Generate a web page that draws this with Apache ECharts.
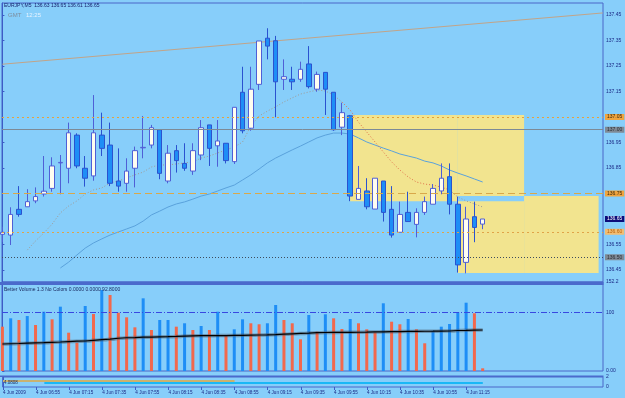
<!DOCTYPE html>
<html>
<head>
<meta charset="utf-8">
<title>EURJPY,M5</title>
<script src="https://cdn.jsdelivr.net/npm/echarts@6/dist/echarts.min.js"></script>
<style>html,body{margin:0;padding:0;background:#87cefa;}</style>
</head>
<body>
<div id="main" style="width:625px;height:398px;"></div>
<script>
// bar index -> time label (M5 bars, first bar 06:35)
var timeIdx = [0, 4, 8, 12, 16, 20, 24, 28, 32, 36, 40, 44, 48, 52, 56];
var timeLabels = ['4 Jun 2009', '4 Jun 06:55', '4 Jun 07:15', '4 Jun 07:35', '4 Jun 07:55',
  '4 Jun 08:15', '4 Jun 08:35', '4 Jun 08:55', '4 Jun 09:15', '4 Jun 09:35', '4 Jun 09:55',
  '4 Jun 10:15', '4 Jun 10:35', '4 Jun 10:55', '4 Jun 11:15'];

var priceTicks = [136.45, 136.55, 136.85, 136.95, 137.15, 137.25, 137.35, 137.45];
var volTicks = [0, 100, 152.2];

// open, close, low, high
var ohlc = [
  [136.590, 136.598, 136.560, 136.620],
  [136.587, 136.668, 136.548, 136.696],
  [136.688, 136.668, 136.659, 136.779],
  [136.698, 136.718, 136.698, 136.767],
  [136.721, 136.738, 136.712, 136.774],
  [136.748, 136.759, 136.738, 136.897],
  [136.770, 136.858, 136.757, 136.892],
  [136.870, 136.872, 136.747, 136.901],
  [136.849, 136.988, 136.790, 137.028],
  [136.979, 136.858, 136.849, 136.986],
  [136.849, 136.810, 136.777, 136.897],
  [136.819, 136.988, 136.800, 137.136],
  [136.979, 136.927, 136.897, 137.067],
  [136.940, 136.790, 136.779, 137.028],
  [136.799, 136.779, 136.757, 136.927],
  [136.790, 136.838, 136.757, 136.888],
  [136.849, 136.918, 136.774, 136.934],
  [136.929, 136.931, 136.888, 137.054],
  [136.940, 137.008, 136.927, 137.019],
  [137.000, 136.829, 136.806, 137.000],
  [136.799, 136.908, 136.790, 136.940],
  [136.918, 136.879, 136.832, 136.940],
  [136.868, 136.849, 136.839, 136.947],
  [136.838, 136.918, 136.823, 136.947],
  [136.901, 137.008, 136.881, 137.038],
  [137.019, 136.927, 136.858, 137.019],
  [136.937, 136.956, 136.855, 137.038],
  [136.947, 136.879, 136.868, 136.947],
  [136.875, 137.088, 136.866, 137.088],
  [137.147, 136.996, 136.986, 137.247],
  [137.006, 137.159, 136.996, 137.247],
  [137.178, 137.348, 137.156, 137.348],
  [137.359, 137.328, 137.276, 137.398],
  [137.349, 137.188, 137.049, 137.368],
  [137.198, 137.208, 137.156, 137.276],
  [137.198, 137.188, 137.156, 137.247],
  [137.198, 137.237, 137.188, 137.267],
  [137.258, 137.169, 137.162, 137.328],
  [137.159, 137.217, 137.149, 137.228],
  [137.225, 137.159, 137.058, 137.225],
  [137.147, 137.000, 136.996, 137.147],
  [137.010, 137.067, 136.979, 137.106],
  [137.055, 136.740, 136.720, 137.058],
  [136.727, 136.770, 136.727, 136.858],
  [136.760, 136.698, 136.688, 136.810],
  [136.689, 136.810, 136.689, 136.810],
  [136.799, 136.676, 136.640, 136.799],
  [136.688, 136.587, 136.577, 136.779],
  [136.598, 136.668, 136.598, 136.718],
  [136.676, 136.640, 136.640, 136.757],
  [136.629, 136.676, 136.578, 136.692],
  [136.676, 136.718, 136.666, 136.738],
  [136.708, 136.770, 136.708, 136.787],
  [136.760, 136.810, 136.747, 136.868],
  [136.816, 136.708, 136.668, 136.868],
  [136.708, 136.470, 136.440, 136.738],
  [136.480, 136.650, 136.437, 136.698],
  [136.659, 136.617, 136.559, 136.718],
  [136.630, 136.650, 136.610, 136.650]
];

var fastMA = [null, null, null, 136.528, 136.564, 136.595, 136.630, 136.674, 136.701, 136.721,
  136.748, 136.764, 136.772, 136.791, 136.799, 136.811, 136.823, 136.834, 136.854, 136.862,
  136.862, 136.866, 136.870, 136.874, 136.889, 136.897, 136.909, 136.921, 136.932, 136.952,
  137.015, 137.054, 137.073, 137.090, 137.109, 137.125, 137.140, 137.148, 137.156, 137.152,
  137.136, 137.109, 137.077, 137.030, 136.991, 136.952, 136.913, 136.874, 136.842, 136.815,
  136.795, 136.787, 136.783, 136.775, 136.764, 136.736, 136.721, 136.709, 136.697];
var fastFallFrom = 41, fastFallTo = 54;

var slowMA = [null, null, null, null, null, null, null,
  136.458, 136.481, 136.509, 136.536, 136.556, 136.572, 136.587, 136.599, 136.611, 136.623,
  136.642, 136.666, 136.681, 136.697, 136.709, 136.717, 136.728, 136.740, 136.748, 136.760,
  136.772, 136.783, 136.803, 136.823, 136.846, 136.870, 136.889, 136.905, 136.921, 136.936,
  136.952, 136.968, 136.979, 136.987, 136.987, 136.983, 136.968, 136.952, 136.940, 136.928,
  136.917, 136.905, 136.897, 136.889, 136.877, 136.870, 136.858, 136.842, 136.830, 136.819,
  136.807, 136.795];

var trendLine = [[0, 137.257], [72.5, 137.458]];

// rectangles: [fromBar, toBar, lowPrice, highPrice]
var boxes = [
  [42, 55, 136.720, 137.058],
  [55, 63, 136.740, 137.058],
  [55, 63, 136.438, 136.720],
  [63, 72, 136.438, 136.740]
];

var volume = [75.8, 90.1, 87.2, 94.0, 78.7, 101.4, 88.4, 110.0, 65.5, 48.4,
  111.2, 97.5, 138.5, 130.0, 99.7, 91.8, 74.7, 124.3, 70.1, 87.2,
  87.2, 75.8, 81.6, 70.1, 77.0, 70.1, 101.4, 59.8, 71.3, 88.4,
  81.6, 79.9, 81.6, 112.9, 87.2, 81.6, 54.2, 95.8, 67.2, 97.0,
  90.1, 71.8, 88.9, 81.6, 71.3, 66.2, 115.8, 84.3, 79.9, 88.9,
  71.3, 47.4, 68.9, 75.8, 80.4, 100.4, 116.8, 98.7, 4.6];
var volKind = ['r','b','r','b','r','b','r','b','r','r',
  'b','r','b','r','r','r','r','b','r','b',
  'b','r','b','r','b','r','b','r','b','b',
  'r','r','b','b','r','r','r','b','r','b',
  'r','r','b','r','r','r','b','r','r','b',
  'r','r','b','b','b','b','b','r','r'];
var volMA = [46.2, 46.6, 47.0, 47.5, 48.0, 48.4, 49.0, 49.6, 50.3, 51.0,
  51.3, 52.5, 53.6, 54.5, 56.0, 56.9, 57.2, 57.8, 58.1, 58.4,
  58.7, 59.2, 59.8, 60.2, 60.4, 60.4, 60.5, 60.6, 60.8, 61.0,
  61.3, 61.6, 61.8, 62.3, 63.0, 63.6, 64.2, 64.8, 65.5, 65.8,
  66.0, 66.1, 66.2, 66.3, 66.5, 66.8, 67.0, 67.2, 67.4, 67.6,
  67.8, 68.0, 68.1, 68.3, 68.4, 69.3, 69.6, 70.0, 70.1];
var volLevel = 100;

var subTan = [[0, 1.22], [28, 1.22]];
var subCyan = [[5, 0.78], [58, 0.78]];

window.onload = function () {
  var myChart = echarts.init(document.getElementById('main'));
  var XMIN = -0.05, XMAX = 72.53;
  var FONT = 'Liberation Sans';
  var axisBlue = '#3d5cc6';

  function xAx(grid, labels) {
    var a = {
      type: 'value', gridIndex: grid, min: XMIN, max: XMAX,
      axisLine: {show: false}, splitLine: {show: false},
      axisTick: {show: false}, axisLabel: {show: false}
    };
    if (labels) {
      a.axisTick = {show: true, customValues: timeIdx, length: 3, lineStyle: {color: axisBlue}};
      a.axisLabel = {
        show: true, customValues: timeIdx, align: 'left', margin: 3,
        fontSize: 4.6, fontFamily: FONT, color: '#1c2a86',
        formatter: function (v) { return timeLabels[timeIdx.indexOf(Math.round(v))]; }
      };
    }
    return a;
  }

  function candles() {
    return ohlc.map(function (d, i) { return [i, d[0], d[1], d[2], d[3]]; });
  }
  function pairs(arr, keep) {
    return arr.map(function (v, i) { return [i, keep(i) ? v : null]; });
  }

  var level = function (price, color, type, bg, txt) {
    return {
      yAxis: price,
      lineStyle: {color: color, type: type, width: 1},
      label: {backgroundColor: bg, color: txt}
    };
  };

  var option = {
    animation: false,
    backgroundColor: '#87cefa',
    grid: [
      {left: 2, right: 22, top: 3, height: 279, show: true, borderColor: '#4a66c8', borderWidth: 1},
      {left: 2, right: 22, top: 282, height: 89, show: true, borderColor: '#4a66c8', borderWidth: 1},
      {left: 2, right: 22, top: 377, height: 10, show: true, borderColor: '#4a66c8', borderWidth: 1}
    ],
    xAxis: [xAx(0, false), xAx(1, false), xAx(2, true)],
    yAxis: [
      {
        type: 'value', gridIndex: 0, position: 'right', min: 136.403, max: 137.497,
        splitLine: {show: false},
        axisLine: {show: true, lineStyle: {color: axisBlue}},
        axisTick: {show: true, customValues: priceTicks, length: 2, lineStyle: {color: axisBlue}},
        axisLabel: {
          customValues: priceTicks, margin: 3, fontSize: 5, fontFamily: FONT, color: '#1c2a86',
          formatter: function (v) { return v.toFixed(2); }
        }
      },
      {
        type: 'value', gridIndex: 1, position: 'right', min: 0, max: 152.2,
        splitLine: {show: false},
        axisLine: {show: true, lineStyle: {color: axisBlue}},
        axisTick: {show: true, customValues: volTicks, length: 2, lineStyle: {color: axisBlue}},
        axisLabel: {
          customValues: volTicks, margin: 3, fontSize: 5, fontFamily: FONT, color: '#1c2a86',
          formatter: function (v) { return v === 0 ? '0.00' : String(v); }
        }
      },
      {
        type: 'value', gridIndex: 2, position: 'right', min: 0, max: 2,
        splitLine: {show: false},
        axisLine: {show: true, lineStyle: {color: axisBlue}},
        axisTick: {show: false},
        axisLabel: {customValues: [0, 2], margin: 3, fontSize: 5, fontFamily: FONT, color: '#1c2a86'}
      }
    ],
    series: [
      {
        name: 'boxes', type: 'line', xAxisIndex: 0, yAxisIndex: 0, data: [], silent: true,
        markArea: {
          silent: true,
          itemStyle: {color: '#f2e48f', borderWidth: 0},
          data: boxes.map(function (b) {
            return [{xAxis: b[0], yAxis: b[3]}, {xAxis: b[1], yAxis: b[2]}];
          })
        }
      },
      {
        name: 'trend', type: 'line', xAxisIndex: 0, yAxisIndex: 0, data: trendLine,
        symbol: 'none', silent: true, lineStyle: {color: '#c2a488', width: 1}
      },
      {
        name: 'levels', type: 'line', xAxisIndex: 0, yAxisIndex: 0, data: [], silent: true,
        markLine: {
          silent: true, symbol: ['none', 'none'],
          label: {
            position: 'end', distance: 2, fontSize: 5, fontFamily: FONT, padding: [1, 2, 0, 2],
            formatter: function (p) { return p.value.toFixed(2); }
          },
          data: [
            level(137.05, '#e6a23a', [2, 3], '#f0a43e', '#3a2a10'),
            level(137.00, '#7d8a96', 'solid', '#7f8a96', '#2c3036'),
            level(136.75, '#d9a84a', [7, 4], '#f0a43e', '#3a2a10'),
            level(136.60, '#e0a448', [2, 3], '#f2bd72', '#b8620e'),
            level(136.50, '#3e4c5c', [1, 2], '#7f8a96', '#2c3036'),
            {yAxis: 136.65, lineStyle: {color: 'rgba(0,0,0,0)', width: 1},
              label: {backgroundColor: '#0c0c7a', color: '#ffffff'}}
          ]
        }
      },
      {
        name: 'slowMA', type: 'line', xAxisIndex: 0, yAxisIndex: 0,
        data: pairs(slowMA, function () { return true; }),
        symbol: 'none', silent: true, lineStyle: {color: '#5aa2dc', width: 1}
      },
      {
        name: 'fastMA', type: 'line', xAxisIndex: 0, yAxisIndex: 0,
        data: pairs(fastMA, function (i) { return i <= fastFallFrom || i >= fastFallTo; }),
        symbol: 'none', silent: true, lineStyle: {color: '#a09a94', width: 1, type: [1, 2]}
      },
      {
        name: 'fastMAfall', type: 'line', xAxisIndex: 0, yAxisIndex: 0,
        data: pairs(fastMA, function (i) { return i >= fastFallFrom && i <= fastFallTo; }),
        symbol: 'none', silent: true, lineStyle: {color: '#e0704a', width: 1, type: [1, 2]}
      },
      {
        name: 'EURJPY', type: 'candlestick', xAxisIndex: 0, yAxisIndex: 0, z: 3,
        data: candles(), encode: {x: 0, y: [1, 2, 3, 4]}, barWidth: 5, silent: true,
        itemStyle: {
          color: '#fffdf0', color0: '#1e8ef6',
          borderColor: '#4f5fd6', borderColor0: '#2a52d0', borderWidth: 1
        }
      },
      {
        name: 'volume', type: 'bar', xAxisIndex: 1, yAxisIndex: 1, barWidth: 3, silent: true,
        data: volume.map(function (v, i) {
          return {value: [i, v], itemStyle: {color: volKind[i] === 'b' ? '#1e8ef6' : '#f2684c'}};
        }),
        markLine: {
          silent: true, symbol: ['none', 'none'], label: {show: false},
          lineStyle: {color: '#3848e0', type: [6, 2, 1, 2], width: 1},
          data: [{yAxis: volLevel}]
        }
      },
      {
        name: 'volMAshade', type: 'line', xAxisIndex: 1, yAxisIndex: 1,
        data: pairs(volMA, function () { return true; }), step: 'middle',
        symbol: 'none', silent: true, lineStyle: {color: 'rgba(70,80,96,0.45)', width: 3.5}
      },
      {
        name: 'volMA', type: 'line', xAxisIndex: 1, yAxisIndex: 1,
        data: pairs(volMA, function () { return true; }),
        symbol: 'none', silent: true, lineStyle: {color: '#000000', width: 1.2}
      },
      {
        name: 'subTan', type: 'line', xAxisIndex: 2, yAxisIndex: 2, data: subTan,
        symbol: 'none', silent: true, lineStyle: {color: '#c9b271', width: 2}
      },
      {
        name: 'subCyan', type: 'line', xAxisIndex: 2, yAxisIndex: 2, data: subCyan,
        symbol: 'none', silent: true, lineStyle: {color: '#1ab8f6', width: 2}
      }
    ],
    graphic: [
      {type: 'rect', shape: {x: 0, y: 282, width: 603.5, height: 3}, style: {fill: '#4a6acc'}, silent: true, z: 50},
      {type: 'rect', shape: {x: 0, y: 375.5, width: 603.5, height: 1.5}, style: {fill: '#4a6acc'}, silent: true, z: 50},
      {type: 'text', left: 4, top: 3, silent: true, z: 60,
        style: {text: 'EURJPY,M5  136.63 136.65 136.61 136.65', fontSize: 5, fontFamily: FONT, fill: '#16226c'}},
      {type: 'text', left: 8, top: 12, silent: true, z: 60,
        style: {text: 'GMT', fontSize: 6, fontFamily: FONT, fill: '#7d8c9c'}},
      {type: 'text', left: 26, top: 12, silent: true, z: 60,
        style: {text: '12:25', fontSize: 6, fontFamily: FONT, fill: '#e8f4ff'}},
      {type: 'text', left: 4, top: 287, silent: true, z: 60,
        style: {text: 'Better Volume 1.3 No Colors 0.0000 0.0000 92.8000', fontSize: 5, fontFamily: FONT, fill: '#1a2a60'}},
      {type: 'text', left: 4, top: 380, silent: true, z: 60,
        style: {text: '4.0808', fontSize: 4.5, fontFamily: FONT, fill: '#1a2a60'}}
    ]
  };
  myChart.setOption(option);
};
</script>
</body>
</html>
